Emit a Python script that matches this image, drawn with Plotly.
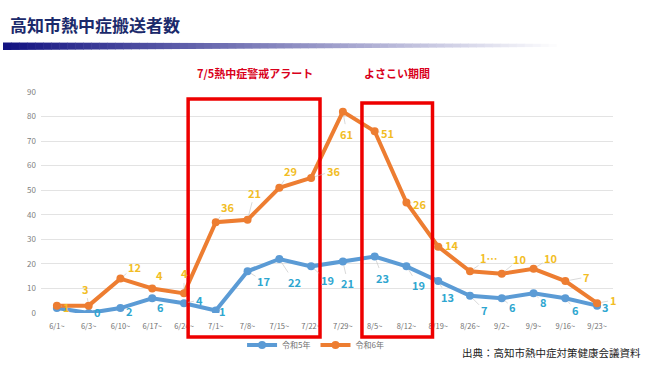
import plotly.graph_objects as go

# ---------------- data ----------------
weeks = ["6/1~", "6/3~", "6/10~", "6/17~", "6/24~", "7/1~", "7/8~", "7/15~", "7/22~",
         "7/29~", "8/5~", "8/12~", "8/19~", "8/26~", "9/2~", "9/9~", "9/16~", "9/23~"]
r5_values = [2, 0, 2, 6, 4, 1, 17, 22, 19, 21, 23, 19, 13, 7, 6, 8, 6, 3]
r6_values = [3, 3, 14, 10, 8, 37, 38, 51, 55, 82, 74, 45, 27, 17, 16, 18, 13, 4]
r5_labels = ["", "0", "2", "6", "4", "1", "17", "22", "19", "21", "23", "19", "13", "7", "6", "8", "6", "3"]
r6_labels = ["1", "3", "12", "4", "4", "36", "21", "29", "36", "61", "51", "26", "14", "1…", "10", "10", "7", "1"]
y_ticks = [0, 10, 20, 30, 40, 50, 60, 70, 80, 90]

# label offsets in pixels (style)
r5_off = [(10, 1), (9, -1), (9, 3), (8, 9), (15, -3), (7, 0), (16, 10), (15, 23), (16, 14),
          (5, 22), (8, 21), (12, 19), (9, 16), (14, 14), (11, 9), (10, 9), (10, 12), (8, 1)]
r6_off = [(10, 1), (-3, -17), (14, -12), (7, -13), (0, -20), (12, -15), (7, -27), (11, -17), (22, -7),
          (4, 22), (13, 2), (13, 1), (13, -2), (19, -13), (18, -15), (17, -11), (21, -4), (16, -3)]

BLUE = "#5b9bd5"
ORANGE = "#ed7d31"
BLUE_TXT = "#2ea6d0"
GOLD_TXT = "#f2bd25"
JP = "Noto Sans CJK JP"

# plot area in pixels
L, R, T, B = 41, 613, 92, 313
W, H = 650, 365


def px(x):
    return (x - L) / (R - L)


def py(y):
    return (B - y) / (B - T)


fig = go.Figure()
fig.add_trace(go.Scatter(x=weeks, y=r5_values, name="令和5年", mode="lines+markers",
                         line=dict(color=BLUE, width=4), marker=dict(size=8, color=BLUE)))
fig.add_trace(go.Scatter(x=weeks, y=r6_values, name="令和6年", mode="lines+markers",
                         line=dict(color=ORANGE, width=4), marker=dict(size=8, color=ORANGE)))

annotations = []
for i, w in enumerate(weeks):
    if r5_labels[i]:
        annotations.append(dict(x=w, y=r5_values[i], xref="x", yref="y", text="<b>%s</b>" % r5_labels[i],
                                showarrow=True, arrowhead=0, arrowwidth=0.6, arrowcolor="#c0c0c0",
                                standoff=4, ax=r5_off[i][0], ay=r5_off[i][1],
                                font=dict(family=JP, size=11, color=BLUE_TXT)))
    if r6_labels[i]:
        annotations.append(dict(x=w, y=r6_values[i], xref="x", yref="y", text="<b>%s</b>" % r6_labels[i],
                                showarrow=True, arrowhead=0, arrowwidth=0.6, arrowcolor="#c0c0c0",
                                standoff=4, ax=r6_off[i][0], ay=r6_off[i][1],
                                font=dict(family=JP, size=11, color=GOLD_TXT)))

# Title and texts
annotations.append(dict(text="<b>高知市熱中症搬送者数</b>", xref="paper", yref="paper",
                        x=px(8), y=py(25), xanchor="left", yanchor="middle", showarrow=False,
                        font=dict(family=JP, size=17, color="#1b2a6b")))
annotations.append(dict(text="<b>7/5熱中症警戒アラート</b>", xref="paper", yref="paper",
                        x=px(255), y=py(73), xanchor="center", yanchor="middle", showarrow=False,
                        font=dict(family=JP, size=11, color="#d9001b")))
annotations.append(dict(text="<b>よさこい期間</b>", xref="paper", yref="paper",
                        x=px(397), y=py(73), xanchor="center", yanchor="middle", showarrow=False,
                        font=dict(family=JP, size=11, color="#d9001b")))
annotations.append(dict(text="出典：高知市熱中症対策健康会議資料", xref="paper", yref="paper",
                        x=px(643), y=py(352), xanchor="right", yanchor="middle", showarrow=False,
                        font=dict(family=JP, size=10.5, color="#222222")))

shapes = []
# gradient bar under title
n = 80
x_start, x_end = 3, 645
for k in range(n):
    t = k / (n - 1)
    x0 = x_start + (x_end - x_start) * k / n
    x1 = x_start + (x_end - x_start) * (k + 1) / n
    c0 = (20, 20, 130)
    f = min(1.0, t * 1.15)
    col = tuple(int(c0[j] + (255 - c0[j]) * f) for j in range(3))
    top = 42.5 + 1.5 * t
    bot = 50 - 3.5 * t
    shapes.append(dict(type="rect", xref="paper", yref="paper", x0=px(x0), x1=px(x1) + 0.001,
                       y0=py(bot), y1=py(top), line=dict(width=0),
                       fillcolor="rgb(%d,%d,%d)" % col, layer="below"))

# red highlight boxes (category index positions)
shapes.append(dict(type="rect", xref="x", yref="paper", x0=4.13, x1=8.28, y0=py(337), y1=py(99),
                   line=dict(color="#ee0000", width=3.5)))
shapes.append(dict(type="rect", xref="x", yref="paper", x0=9.6, x1=11.82, y0=py(337), y1=py(103),
                   line=dict(color="#ee0000", width=3.5)))

fig.update_layout(
    width=W, height=H,
    margin=dict(l=L, r=W - R, t=T, b=H - B, autoexpand=False),
    paper_bgcolor="white", plot_bgcolor="white",
    font=dict(family=JP),
    showlegend=True,
    legend=dict(orientation="h", x=0.48, y=py(345), xanchor="center", yanchor="middle",
                font=dict(family=JP, size=8, color="#707070"), itemwidth=30,
                bgcolor="rgba(0,0,0,0)"),
    annotations=annotations,
    shapes=shapes,
)
fig.update_xaxes(type="category", range=[-0.5, len(weeks) - 0.5], automargin=False,
                 showgrid=False, showline=False, zeroline=False, ticklabelstandoff=7,
                 tickfont=dict(family=JP, size=7.5, color="#707070"), ticks="")
fig.update_yaxes(range=[0, 90], tickvals=y_ticks, automargin=False,
                 showgrid=True, gridcolor="#e3e3e3", gridwidth=1,
                 zeroline=False, showline=False, ticklabelstandoff=4,
                 tickfont=dict(family=JP, size=8, color="#808080"), ticks="")

fig.write_html("out.html", config={"displayModeBar": False},
               post_script="document.body.style.margin='0';document.body.style.overflow='hidden';")
